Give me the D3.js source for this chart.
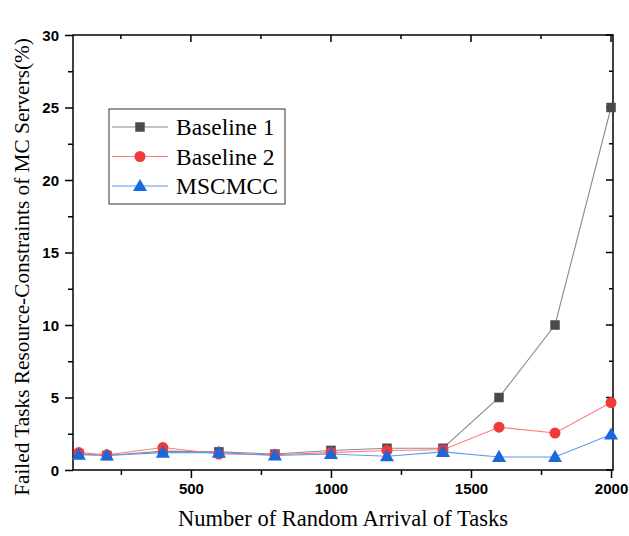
<!DOCTYPE html>
<html>
<head>
<meta charset="utf-8">
<script src="https://cdn.jsdelivr.net/npm/d3@7"></script>
<style>
body { margin: 0; background: #fff; }
svg { display: block; }
.tick-label { font-family: "Liberation Sans", Arial, sans-serif; font-weight: bold; font-size: 15px; }
.title { font-family: "Liberation Serif", "Times New Roman", serif; }
</style>
</head>
<body>
<div id="chart"></div>
<script>
// data
var tasks = [100, 200, 400, 600, 800, 1000, 1200, 1400, 1600, 1800, 2000];
var baseline1 = [1.1, 1.0, 1.3, 1.25, 1.1, 1.35, 1.5, 1.5, 5.0, 10.0, 25.0];
var baseline2 = [1.2, 1.05, 1.55, 1.1, 1.05, 1.2, 1.35, 1.4, 2.95, 2.55, 4.65];
var mscmcc = [1.05, 1.0, 1.2, 1.2, 1.0, 1.1, 0.95, 1.25, 0.9, 0.9, 2.45];
var xTicks = [250, 500, 750, 1000, 1250, 1500, 1750, 2000];
var yTicks = [0, 2.5, 5, 7.5, 10, 12.5, 15, 17.5, 20, 22.5, 25, 27.5, 30];

var series = [
	{name: 'Baseline 1', values: baseline1, line: '#8a8a8a', fill: '#4a4a4a', shape: d3.symbolSquare, size: 90},
	{name: 'Baseline 2', values: baseline2, line: '#ff7b7b', fill: '#f23a3a', shape: d3.symbolCircle, size: 95},
	{name: 'MSCMCC', values: mscmcc, line: '#5d9cec', fill: '#1a68dc', shape: d3.symbolTriangle, size: 85}
];

var W = 629, H = 536;
var margin = {top: 35, right: 16, bottom: 66, left: 73};
var width = W - margin.left - margin.right,
	height = H - margin.top - margin.bottom;

var svg = d3.select('#chart').append('svg')
	.attr('width', W)
	.attr('height', H);

var x = d3.scaleLinear().domain([79, 2007]).range([0, width]);
var y = d3.scaleLinear().domain([0, 30]).range([height, 0]);

var g = svg.append('g')
	.attr('transform', 'translate(' + margin.left + ',' + margin.top + ')');

/// ticks: outward on left/bottom, inward on top/right
function isMajorX(v) { return v % 500 === 0; }
function isMajorY(v) { return v % 5 === 0; }

var xAxisBottom = d3.axisBottom(x).tickValues(xTicks)
	.tickSize(0).tickFormat(function(d) { return isMajorX(d) ? d : ''; });
var gxb = g.append('g')
	.attr('transform', 'translate(0,' + height + ')')
	.call(xAxisBottom);
gxb.select('.domain').remove();
gxb.selectAll('.tick line')
	.attr('y2', function(d) { return isMajorX(d) ? 8 : 5; })
	.attr('stroke', '#000').attr('stroke-width', 1.5);
gxb.selectAll('.tick text')
	.attr('class', 'tick-label')
	.attr('y', 24)
	.attr('dy', 0)
	.attr('fill', '#000');

var gxt = g.append('g');
gxt.selectAll('line').data(xTicks).enter().append('line')
	.attr('x1', function(d) { return x(d); })
	.attr('x2', function(d) { return x(d); })
	.attr('y1', 0)
	.attr('y2', function(d) { return isMajorX(d) ? 7 : 4; })
	.attr('stroke', '#000').attr('stroke-width', 1.5);

var yAxisLeft = d3.axisLeft(y).tickValues(yTicks)
	.tickSize(0).tickFormat(function(d) { return isMajorY(d) ? d : ''; });
var gyl = g.append('g').call(yAxisLeft);
gyl.select('.domain').remove();
gyl.selectAll('.tick line')
	.attr('x2', function(d) { return isMajorY(d) ? -8 : -5; })
	.attr('stroke', '#000').attr('stroke-width', 1.5);
gyl.selectAll('.tick text')
	.attr('class', 'tick-label')
	.attr('x', -14)
	.attr('dy', '0.36em')
	.attr('fill', '#000');

var gyr = g.append('g');
gyr.selectAll('line').data(yTicks).enter().append('line')
	.attr('x1', width)
	.attr('x2', function(d) { return width - (isMajorY(d) ? 7 : 4); })
	.attr('y1', function(d) { return y(d); })
	.attr('y2', function(d) { return y(d); })
	.attr('stroke', '#000').attr('stroke-width', 1.5);

// frame
g.append('rect')
	.attr('width', width)
	.attr('height', height)
	.attr('fill', 'none')
	.attr('stroke', '#000')
	.attr('stroke-width', 1.5);

/// lines and markers
var line = d3.line()
	.x(function(d, i) { return x(tasks[i]); })
	.y(function(d) { return y(d); });

series.forEach(function(s) {
	g.append('path')
		.datum(s.values)
		.attr('fill', 'none')
		.attr('stroke', s.line)
		.attr('stroke-width', 1.1)
		.attr('d', line);
});

series.forEach(function(s) {
	var sym = d3.symbol().type(s.shape).size(s.size);
	g.selectAll('.pt-' + s.name.replace(/\s/g, ''))
		.data(s.values)
		.enter().append('path')
		.attr('transform', function(d, i) {
			var dy = s.shape === d3.symbolTriangle ? 1 : 0;
			return 'translate(' + x(tasks[i]) + ',' + (y(d) + dy) + ')';
		})
		.attr('d', sym)
		.attr('fill', s.fill);
});

/// legend
var legend = svg.append('g')
	.attr('transform', 'translate(109,109)');
legend.append('rect')
	.attr('width', 176)
	.attr('height', 95)
	.attr('fill', '#fff')
	.attr('stroke', '#333')
	.attr('stroke-width', 1);

series.forEach(function(s, i) {
	var ly = 18 + i * 29.5;
	legend.append('line')
		.attr('x1', 3).attr('x2', 59)
		.attr('y1', ly).attr('y2', ly)
		.attr('stroke', s.line)
		.attr('stroke-width', 1.1);
	legend.append('path')
		.attr('transform', 'translate(31,' + (ly + (s.shape === d3.symbolTriangle ? 1 : 0)) + ')')
		.attr('d', d3.symbol().type(s.shape).size(s.size))
		.attr('fill', s.fill);
	legend.append('text')
		.attr('class', 'title')
		.attr('x', 67)
		.attr('y', ly + 8)
		.style('font-size', '23.5px')
		.attr('fill', '#000')
		.text(s.name);
});

/// axis titles
svg.append('text')
	.attr('class', 'title')
	.attr('x', margin.left + width / 2)
	.attr('y', 526)
	.attr('text-anchor', 'middle')
	.style('font-size', '22.5px')
	.text('Number of Random Arrival of Tasks');

svg.append('text')
	.attr('class', 'title')
	.attr('transform', 'rotate(-90)')
	.attr('x', -267)
	.attr('y', 29)
	.attr('text-anchor', 'middle')
	.style('font-size', '21.3px')
	.text('Failed Tasks Resource-Constraints of MC Servers(%)');
</script>
</body>
</html>
